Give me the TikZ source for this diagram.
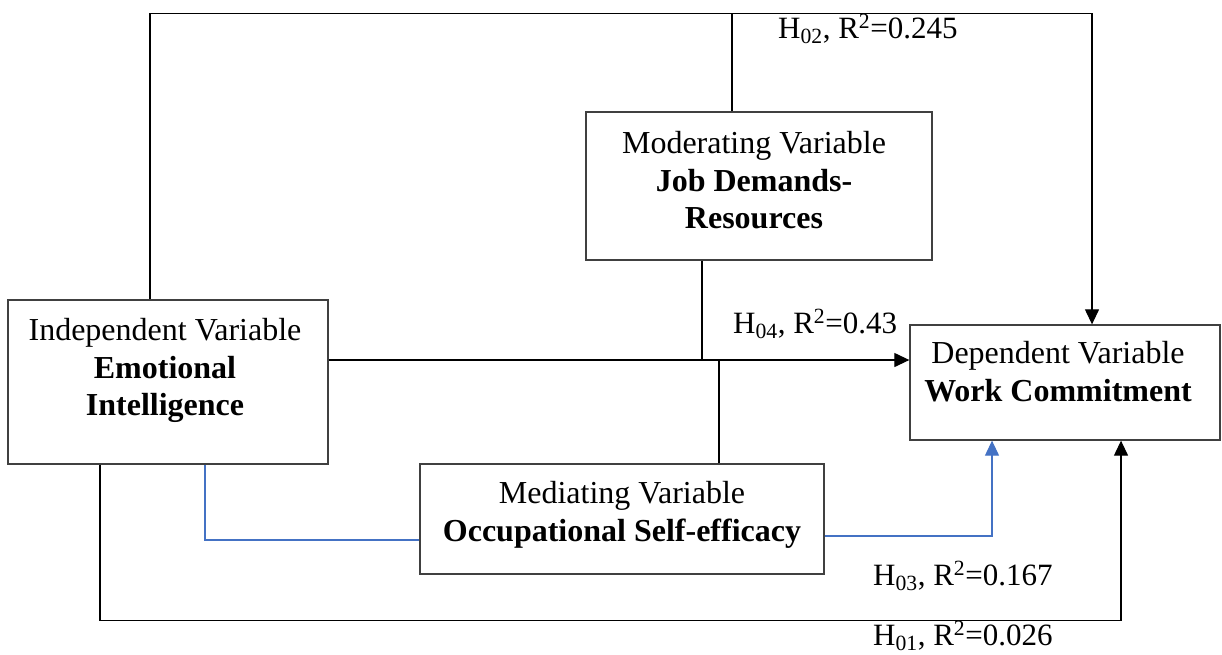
\documentclass[tikz,border=0pt]{standalone}
\usepackage{fontspec}
\setmainfont{Liberation Serif}
\usetikzlibrary{arrows.meta,positioning}
\definecolor{blueline}{HTML}{4472C4}
\tikzset{
	varbox/.style={draw=black!75, line width=1.3pt},
	vartext/.style={align=center, inner sep=0pt, font=\fontsize{32}{37.5}\selectfont},
	hlabel/.style={inner sep=0pt, anchor=base west, font=\fontsize{31}{35}\selectfont},
	link/.style={line width=1.2pt},
	arr/.style={link, -{Triangle[length=15pt,width=14pt]}},
	bluelink/.style={link, draw=blueline},
	bluearr/.style={bluelink, -{Triangle[length=15pt,width=14pt]}},
}
\begin{document}
\begin{tikzpicture}[x=1pt, y=-1pt]
			\useasboundingbox (0,0) rectangle (1222,654);
			% boxes
			\node (iv) [varbox, minimum width=320pt, minimum height=164pt] at (168,382) {};
			\node (mod) [varbox, minimum width=346pt, minimum height=148pt] at (759,186) {};
			\node (dv) [varbox, minimum width=310pt, minimum height=115pt] at (1065,382.5) {};
			\node (med) [varbox, minimum width=404pt, minimum height=110pt] at (622,519) {};
			\node (ivtext) [vartext, below=19pt of iv.north, xshift=-3pt] {Independent Variable\\\textbf{Emotional}\\\textbf{Intelligence}};
			\node (modtext) [vartext, below=20pt of mod.north, xshift=-5pt] {Moderating Variable\\\textbf{Job Demands-}\\\textbf{Resources}};
			\node (dvtext) [vartext, below=17pt of dv.north, xshift=-7pt] {Dependent Variable\\\textbf{Work Commitment}};
			\node (medtext) [vartext, below=18pt of med.north] {Mediating Variable\\\textbf{Occupational Self-efficacy}};
			% H02 path over the top
			\draw [arr] ([xshift=-18pt]iv.north) -- ++(0,-286) -| ([xshift=27pt]dv.north);
			\draw [link] ([xshift=-27pt]mod.north) -- ++(0,-98);
			% H04 direct path
			\draw [arr] ([yshift=22pt]iv.east) -- ([yshift=22pt]iv.east -| dv.west);
			\draw [link] ([xshift=-57pt]mod.south) -- ++(0,100);
			\draw [link] ([xshift=97pt]med.north) -- ++(0,-104);
			% H03 through the mediator
			\draw [bluelink] ([xshift=37pt]iv.south) |- ([yshift=-21pt]med.west);
			\draw [bluearr] ([yshift=-17pt]med.east) -| ([xshift=-73pt]dv.south);
			% H01 path under the boxes
			\draw [arr] ([xshift=-68pt]iv.south) -- ++(0,156) -| ([xshift=56pt]dv.south);
			% labels
			\node (h02) [hlabel] at (778,38) {H\textsubscript{02}, R\textsuperscript{2}=0.245};
			\node (h04) [hlabel] at (733,333) {H\textsubscript{04}, R\textsuperscript{2}=0.43};
			\node (h03) [hlabel] at (873,585) {H\textsubscript{03}, R\textsuperscript{2}=0.167};
			\node (h01) [hlabel] at (873,645) {H\textsubscript{01}, R\textsuperscript{2}=0.026};
		\end{tikzpicture}
\end{document}
